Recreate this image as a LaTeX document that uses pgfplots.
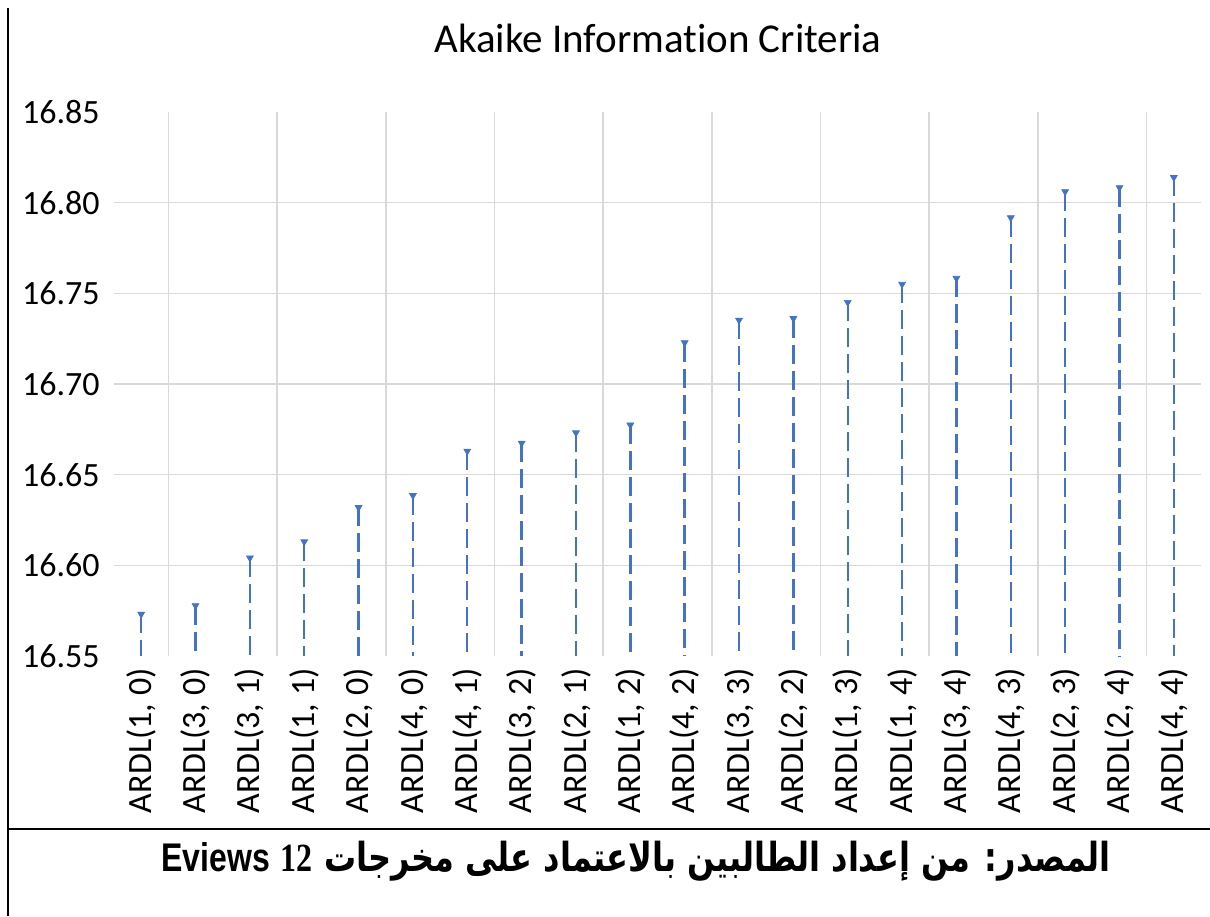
\documentclass[border=0pt]{standalone}
\usepackage{graphicx}
\usepackage{pgfplots}
\pgfplotsset{compat=1.18}
\usepackage{pgfplotstable}
\usepackage{fontspec}
\setmainfont{Carlito}[Ligatures=NoCommon]
\newfontfamily\arabicfont[Script=Arabic]{DejaVu Sans}
\newfontfamily\arialfont{Liberation Sans}
\newfontfamily\timesfont{Liberation Serif}
\TeXXeTstate=1
\definecolor{ablue}{HTML}{4472C4}
\definecolor{gridgray}{HTML}{D9D9D9}

\pgfplotstableread{
x y e
0 16.5731 0.0231
1 16.5778 0.0278
2 16.6041 0.0541
3 16.6130 0.0630
4 16.6319 0.0819
5 16.6385 0.0885
6 16.6630 0.1130
7 16.6674 0.1174
8 16.6731 0.1231
9 16.6774 0.1274
10 16.7228 0.1728
11 16.7352 0.1852
12 16.7361 0.1861
13 16.7450 0.1950
14 16.7550 0.2050
15 16.7583 0.2083
16 16.7917 0.2417
17 16.8061 0.2561
18 16.8083 0.2583
19 16.8139 0.2639
}\aicdata

\begin{document}
\begin{tikzpicture}
\path[use as bounding box] (0,0) rectangle (605pt,458pt);
\draw[line width=1pt] (4pt,0) -- (4pt,454pt);
\draw[line width=1pt] (4pt,43.5pt) -- (605pt,43.5pt);
\begin{axis}[
  at={(57pt,130pt)}, anchor=south west,
  scale only axis, width=543.5pt, height=272pt,
  xmin=-0.5, xmax=19.5, ymin=16.55, ymax=16.85,
  axis line style={draw=none},
  major tick length=0pt,
  tick style={draw=none},
  xtick={0,...,19},
  xticklabels={{ARDL(1, 0)},{ARDL(3, 0)},{ARDL(3, 1)},{ARDL(1, 1)},{ARDL(2, 0)},{ARDL(4, 0)},{ARDL(4, 1)},{ARDL(3, 2)},{ARDL(2, 1)},{ARDL(1, 2)},{ARDL(4, 2)},{ARDL(3, 3)},{ARDL(2, 2)},{ARDL(1, 3)},{ARDL(1, 4)},{ARDL(3, 4)},{ARDL(4, 3)},{ARDL(2, 3)},{ARDL(2, 4)},{ARDL(4, 4)}},
  xticklabel style={rotate=90, anchor=east, inner sep=0pt, inner xsep=6pt, font=\fontsize{17}{20}\selectfont},
  ytick={16.55,16.60,16.65,16.70,16.75,16.80,16.85},
  yticklabels={16.55,16.60,16.65,16.70,16.75,16.80,16.85},
  yticklabel style={anchor=east, inner sep=0pt, xshift=-7pt, font=\fontsize{17}{20}\selectfont},
  extra x ticks={0.5,2.5,...,18.5},
  extra x tick labels={},
  extra x tick style={xmajorgrids=true, major grid style={color=gridgray, line width=0.8pt}},
  extra y ticks={16.60,16.65,16.70,16.75,16.80},
  extra y tick labels={},
  extra y tick style={ymajorgrids=true, major grid style={color=gridgray, line width=0.8pt}},
]
\addplot[only marks, mark=triangle*, mark size=2pt,
  mark options={rotate=180, fill=ablue, draw=ablue, line width=0.3pt},
  error bars/.cd, y dir=minus, y explicit, error mark=none,
  error bar style={color=ablue, line width=1.2pt, dash pattern=on 9.5pt off 3.5pt}]
  table[x=x, y=y, y error=e] {\aicdata};
\end{axis}
\node[font=\fontsize{20.5}{24}\selectfont] at (329pt,439pt) {Akaike Information Criteria};
\node[font=\fontsize{20}{24}\selectfont\bfseries] at (318pt,27.5pt) {\scalebox{0.8}[1]{\arabicfont\bfseries\beginR المصدر: من إعداد الطالبين بالاعتماد على مخرجات \beginL{\timesfont\bfseries 12}\endL{} \beginL{\arialfont\bfseries Eviews}\endL\endR}};
\end{tikzpicture}
\end{document}
